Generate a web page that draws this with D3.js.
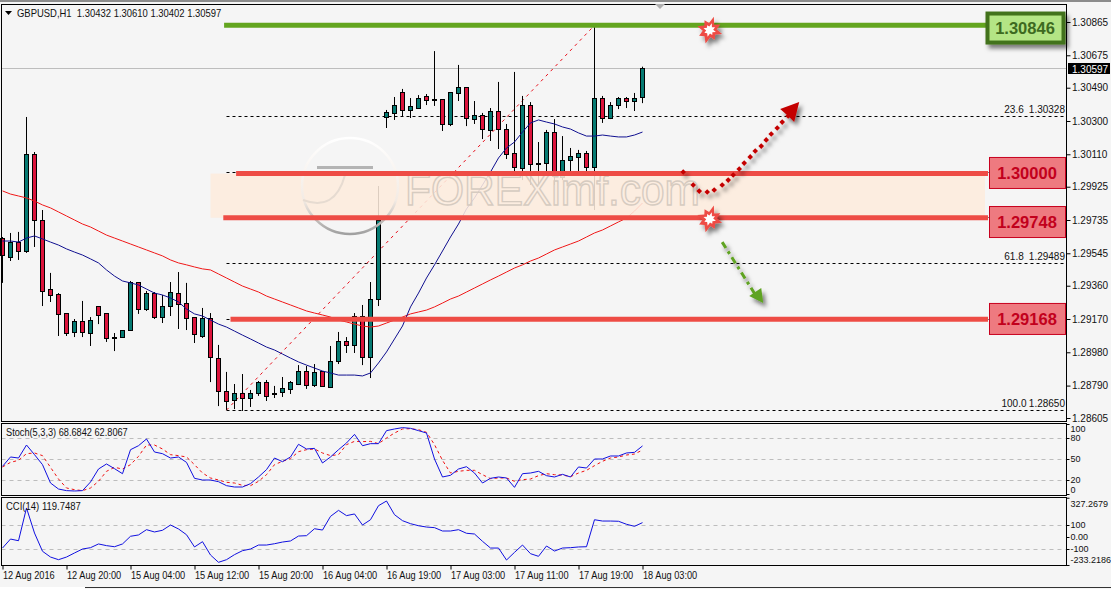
<!DOCTYPE html>
<html>
<head>
<meta charset="utf-8">
<script src="https://cdn.jsdelivr.net/npm/d3@7/dist/d3.min.js"></script>
<style>
  html, body { margin: 0; padding: 0; background: #f5f5f5; overflow: hidden; }
  svg { display: block; }
  text { font-family: "Liberation Sans", Arial, sans-serif; fill: #111; }
</style>
</head>
<body>
<svg id="chart" width="1111" height="589"></svg>
<script>
// GBPUSD H1 candles, 12 Aug 2016 to 18 Aug 2016
const opens = [1.29627,1.29524,1.29609,1.29552,1.30106,1.29735,1.29336,1.29307,1.29199,1.29090,1.29153,1.29090,1.29239,1.29199,1.29065,1.29067,1.29107,1.29381,1.29227,1.29318,1.29181,1.29244,1.29318,1.29261,1.29176,1.29067,1.29170,1.28942,1.28754,1.28702,1.28742,1.28713,1.28742,1.28805,1.28742,1.28748,1.28765,1.28799,1.28873,1.28788,1.28868,1.28782,1.28925,1.29039,1.29022,1.29187,1.28953,1.29284,1.30323,1.30346,1.30460,1.30357,1.30374,1.30437,1.30420,1.30420,1.30277,1.30460,1.30494,1.30311,1.30329,1.30249,1.30357,1.30254,1.30112,1.30032,1.30391,1.30055,1.30055,1.30232,1.29980,1.30072,1.30095,1.30112,1.30032,1.30426,1.30311,1.30386,1.30426,1.30414,1.30432];
const highs = [1.29638,1.29661,1.29667,1.30323,1.30123,1.29792,1.29433,1.29318,1.29204,1.29170,1.29273,1.29181,1.29239,1.29199,1.29090,1.29107,1.29387,1.29381,1.29330,1.29324,1.29307,1.29381,1.29438,1.29376,1.29176,1.29233,1.29204,1.29022,1.28868,1.28799,1.28856,1.28765,1.28816,1.28822,1.28788,1.28839,1.28816,1.28907,1.28902,1.28913,1.28868,1.29016,1.29096,1.29067,1.29204,1.29250,1.29381,1.29929,1.30363,1.30437,1.30483,1.30431,1.30448,1.30454,1.30699,1.30420,1.30460,1.30620,1.30494,1.30414,1.30346,1.30374,1.30523,1.30283,1.30580,1.30443,1.30408,1.30180,1.30249,1.30311,1.30214,1.30146,1.30135,1.30129,1.30848,1.30443,1.30408,1.30437,1.30437,1.30460,1.30610];
const lows = [1.29376,1.29501,1.29507,1.29547,1.29581,1.29244,1.29267,1.29073,1.29073,1.29067,1.29067,1.29016,1.29141,1.29039,1.28987,1.29062,1.29107,1.29199,1.29216,1.29170,1.29147,1.29187,1.29113,1.29107,1.29033,1.29062,1.28810,1.28673,1.28651,1.28656,1.28645,1.28668,1.28731,1.28702,1.28719,1.28725,1.28742,1.28793,1.28771,1.28782,1.28782,1.28776,1.28913,1.28976,1.28976,1.28907,1.28833,1.29244,1.30260,1.30306,1.30323,1.30317,1.30374,1.30391,1.30386,1.30243,1.30271,1.30414,1.30271,1.30283,1.30197,1.30186,1.30140,1.30083,1.29992,1.29963,1.29935,1.29935,1.30009,1.29935,1.29963,1.30009,1.30009,1.29998,1.29792,1.30289,1.30311,1.30368,1.30374,1.30357,1.30402];
const closes = [1.29530,1.29609,1.29558,1.30106,1.29729,1.29330,1.29301,1.29193,1.29084,1.29153,1.29090,1.29164,1.29187,1.29056,1.29060,1.29107,1.29381,1.29227,1.29318,1.29181,1.29244,1.29324,1.29256,1.29176,1.29078,1.29170,1.28947,1.28754,1.28696,1.28742,1.28713,1.28742,1.28805,1.28725,1.28735,1.28771,1.28805,1.28873,1.28793,1.28862,1.28782,1.28930,1.29039,1.29016,1.29187,1.28953,1.29284,1.29735,1.30351,1.30391,1.30357,1.30380,1.30431,1.30414,1.30415,1.30277,1.30460,1.30494,1.30317,1.30334,1.30249,1.30357,1.30254,1.30112,1.30032,1.30391,1.30055,1.30050,1.30232,1.29980,1.30077,1.30095,1.30117,1.30032,1.30426,1.30311,1.30386,1.30426,1.30408,1.30431,1.30597];

// Moving averages on the price panel
const maFast = [1.29615,1.29615,1.29609,1.29632,1.29644,1.29627,1.29609,1.29592,1.29570,1.29552,1.29535,1.29513,1.29490,1.29450,1.29415,1.29387,1.29376,1.29364,1.29341,1.29318,1.29307,1.29290,1.29267,1.29227,1.29199,1.29187,1.29164,1.29141,1.29124,1.29101,1.29078,1.29056,1.29033,1.29010,1.28993,1.28970,1.28947,1.28925,1.28907,1.28890,1.28873,1.28862,1.28850,1.28850,1.28850,1.28845,1.28862,1.28919,1.28982,1.29056,1.29130,1.29239,1.29318,1.29404,1.29479,1.29558,1.29638,1.29712,1.29798,1.29861,1.29935,1.30009,1.30089,1.30146,1.30180,1.30237,1.30289,1.30306,1.30294,1.30283,1.30266,1.30254,1.30232,1.30214,1.30214,1.30220,1.30214,1.30209,1.30209,1.30220,1.30237];
const maSlow = [1.29901,1.29883,1.29872,1.29861,1.29843,1.29821,1.29804,1.29781,1.29758,1.29735,1.29712,1.29695,1.29672,1.29649,1.29632,1.29615,1.29598,1.29581,1.29564,1.29547,1.29530,1.29507,1.29490,1.29479,1.29467,1.29456,1.29450,1.29427,1.29404,1.29381,1.29358,1.29341,1.29324,1.29301,1.29284,1.29267,1.29250,1.29233,1.29216,1.29204,1.29193,1.29181,1.29164,1.29153,1.29141,1.29130,1.29124,1.29130,1.29147,1.29164,1.29181,1.29199,1.29210,1.29221,1.29239,1.29261,1.29284,1.29301,1.29324,1.29347,1.29370,1.29393,1.29415,1.29438,1.29461,1.29479,1.29501,1.29518,1.29541,1.29564,1.29581,1.29598,1.29615,1.29638,1.29661,1.29678,1.29701,1.29724,1.29746,1.29786,1.29832];

// Stochastic oscillator, main and signal
const stochMain = [39.5,52.9,51.4,70,56.2,41.9,15.7,7.1,4.8,4.3,4.8,17.1,35.7,42.9,36.2,29,63.3,69,78.6,60,57.6,51.4,52.9,45.2,22.4,20,20,17.6,11.9,10,10,14.8,24.3,34.8,51.4,46.2,52.9,71,64.3,65.2,44.3,52.9,63.3,72.9,85.2,69,71.9,71.9,90.5,92.9,94.8,93.8,90.5,87.1,50,24.3,26.7,35.7,39,30,15.7,22.4,24.3,22.9,9.5,29,30,32.4,26.2,24.3,28.1,24.3,38.6,37.1,50,50,54.3,54.3,58.6,59.5,68.68];
const stochSignal = [38.6,45.2,48.1,57.6,58.6,54.8,38.1,21.4,8.6,6.2,4.8,8.6,18.1,32.4,38.1,35.7,41.9,53.8,70,70,64.3,56.2,54.8,52.9,41.9,30,22.9,20,16.7,15.7,12.4,11.9,18.1,27.6,41.9,46.7,50.5,60.5,63.3,64.3,58.6,54.8,56.2,70.5,75.2,74.8,75.2,71.9,80,87.1,92.9,93.3,91.9,88.1,70.5,48.1,30,32.4,33.8,33.8,27.6,21.9,22.9,22.9,18.1,20.5,21.4,26.2,29,27.6,27.1,24.8,30,33.8,40.5,46.7,51.4,52.9,55.7,57.1,62.81];

// Commodity channel index
const cci = [-92,-17,-31,242,33,-119,-167,-189,-167,-133,-100,-89,-58,-72,-81,-58,6,17,61,42,56,100,67,19,-83,-39,-150,-211,-189,-147,-114,-100,-67,-67,-56,-42,-33,8,11,69,58,172,222,178,192,100,144,261,300,186,136,111,94,83,78,50,50,61,31,25,-36,-92,-92,-192,-128,-67,-139,-161,-75,-117,-92,-89,-83,-81,144,133,133,131,106,89,119.75];

// Axis labels
const priceTicks = [1.30865,1.30675,1.30490,1.30300,1.30110,1.29925,1.29735,1.29545,1.29360,1.29170,1.28980,1.28790,1.28605];
const stochTicks = [100,80,50,20,0];
const cciTicks = [327.2679,100,0,-100,-233.2186];
const timeTickBars = [0,8,16,24,32,40,48,56,64,72,80];
const timeLabels = ["12 Aug 2016","12 Aug 20:00","15 Aug 04:00","15 Aug 12:00","15 Aug 20:00","16 Aug 04:00","16 Aug 19:00","17 Aug 03:00","17 Aug 11:00","17 Aug 19:00","18 Aug 03:00"];

// Support and resistance levels
const levelPrices = [1.30846,1.30000,1.29748,1.29168];
const levelStartBars = [27.7,29.2,27.6,28.5];
const levelKinds = ["up","down","down","down"];

// Fibonacci retracement between the swing low and swing high
const fibSwingLow = 1.28650;
const fibSwingHigh = 1.30846;
const fibLowBar = 28;
const fibHighBar = 74;
const fibPercents = ["23.6","61.8","100.0"];
const fibPrices = [1.30328,1.29489,1.28650];
const fibHiddenPrices = [1.30846,1.30007,1.29748,1.29168];

// Scenario paths, given as bar index and price
const upDotBars = [85.09,86.34,87.09,88.09,88.96,89.96,90.71,91.34,92.09,92.71,93.46,94.09,94.84,95.46,96.09,96.84,97.46,98.21];
const upDotPrices = [1.30009,1.29935,1.29900,1.29895,1.29906,1.29935,1.29963,1.29992,1.30026,1.30060,1.30095,1.30129,1.30157,1.30192,1.30226,1.30260,1.30294,1.30329];
const upHeadBars = [99.59,97.21,98.21,98.96];
const upHeadPrices = [1.30408,1.30368,1.30329,1.30294];
const downPathBars = [89.96,94.21];
const downPathPrices = [1.29609,1.29301];
const downHeadBars = [95.09,93.34,94.84];
const downHeadPrices = [1.29261,1.29301,1.29347];
const burstBars = [88.4,88.4];
const burstPrices = [1.30819,1.29741];

const lastPrice = closes[closes.length - 1];

const svg = d3.select("#chart");
const frameLeft = 1.5, frameRight = 1066.5;
const panels = {
  main: { top: 4.5, bottom: 421.5 },
  stoch: { top: 423.5, bottom: 495.5 },
  cci: { top: 497.5, bottom: 565.5 }
};

const x = d3.scaleLinear().domain([0, 1]).range([2.5, 10.5]);
const y = d3.scaleLinear().domain([1.30865, 1.28605]).range([22, 418]);
const yStoch = d3.scaleLinear().domain([0, 100]).range([494, 424]);
const yCci = d3.scaleLinear().domain([0, 100]).range([537, 525]);
const snap = v => Math.round(v - 0.5) + 0.5;

// The terminal font runs narrower than Liberation Sans, so squeeze text to its measured width
function squeeze(selection, ratio) {
  selection.each(function () {
    d3.select(this).attr("textLength", this.getComputedTextLength() * ratio)
      .attr("lengthAdjust", "spacingAndGlyphs");
  });
}

const defs = svg.append("defs");
const shadow = defs.append("filter").attr("id", "drop")
  .attr("x", "-30%").attr("y", "-30%").attr("width", "170%").attr("height", "170%");
shadow.append("feDropShadow").attr("dx", 3).attr("dy", 4).attr("stdDeviation", 2.2)
  .attr("flood-color", "#000").attr("flood-opacity", 0.5);
const ringFade = defs.append("linearGradient").attr("id", "ring")
  .attr("x1", 0).attr("x2", 0).attr("y1", 0).attr("y2", 1);
ringFade.append("stop").attr("offset", "0").attr("stop-color", "#ffffff");
ringFade.append("stop").attr("offset", "0.65").attr("stop-color", "#f3ebe4");
ringFade.append("stop").attr("offset", "1").attr("stop-color", "#a0a0a0");

// Window background and edges
svg.append("rect").attr("width", 1111).attr("height", 589).attr("fill", "#f5f5f5");
svg.append("rect").attr("width", 1111).attr("height", 2).attr("fill", "#8c8c8c");
svg.append("line").attr("x1", 85).attr("x2", 1111).attr("y1", 587.5).attr("y2", 587.5).attr("stroke", "#333");
svg.append("rect").attr("x", 0).attr("y", 587).attr("width", 85).attr("height", 2).attr("fill", "#fff");

// Dashed oscillator reference lines
[[yStoch, [80, 50, 20]], [yCci, [100, -100]]].forEach(([scale, levels]) => {
  svg.append("g").selectAll("line").data(levels).join("line")
    .attr("x1", frameLeft).attr("x2", frameRight)
    .attr("y1", d => snap(scale(d))).attr("y2", d => snap(scale(d)))
    .attr("stroke", "#bdbdbd").attr("stroke-dasharray", "4 4");
});

// Objects that sit behind the candles
const back = svg.append("g");
back.append("line").attr("x1", frameLeft).attr("x2", frameRight)
  .attr("y1", snap(y(lastPrice))).attr("y2", snap(y(lastPrice))).attr("stroke", "#bdbdbd");
back.selectAll(".fib").data(fibPrices.concat(fibHiddenPrices)).join("line").attr("class", "fib")
  .attr("x1", x(fibLowBar)).attr("x2", 1065)
  .attr("y1", d => snap(y(d))).attr("y2", d => snap(y(d)))
  .attr("stroke", "#000").attr("stroke-dasharray", "3 3");
back.append("line")
  .attr("x1", x(fibLowBar)).attr("y1", y(fibSwingLow))
  .attr("x2", x(fibHighBar)).attr("y2", y(fibSwingHigh))
  .attr("stroke", "#e8101c").attr("stroke-dasharray", "3 4");

// Candles
const bars = d3.range(opens.length);
const candles = svg.append("g").selectAll("g").data(bars).join("g");
candles.append("line")
  .attr("x1", i => x(i)).attr("x2", i => x(i))
  .attr("y1", i => y(highs[i])).attr("y2", i => y(lows[i]))
  .attr("stroke", "#000");
candles.append("rect")
  .attr("x", i => x(i) - 2).attr("width", 4)
  .attr("y", i => snap(y(Math.max(opens[i], closes[i]))))
  .attr("height", i => Math.max(1, Math.round(Math.abs(y(opens[i]) - y(closes[i])))))
  .attr("fill", i => closes[i] >= opens[i] ? "#067a72" : "#dc143c")
  .attr("stroke", "#000");

// Moving average lines
const priceLine = d3.line().x((d, i) => x(i)).y(d => y(d));
svg.append("path").attr("d", priceLine(maSlow)).attr("fill", "none").attr("stroke", "#f01818");
svg.append("path").attr("d", priceLine(maFast)).attr("fill", "none").attr("stroke", "#101090");

// Buy zone between the two lower levels
const boxLeft = 985;
svg.append("rect")
  .attr("x", x(26)).attr("width", boxLeft - x(26))
  .attr("y", y(levelPrices[1])).attr("height", y(levelPrices[2]) - y(levelPrices[1]))
  .attr("fill", "#fdebdd").attr("opacity", 0.87);

// Watermark
const mark = svg.append("g");
mark.append("circle").attr("cx", 350).attr("cy", 186).attr("r", 48)
  .attr("fill", "none").attr("stroke", "url(#ring)").attr("stroke-width", 2.5);
mark.append("rect").attr("x", 317).attr("y", 166).attr("width", 56).attr("height", 3).attr("fill", "#b4b4b4");
mark.append("path").attr("d", "M303 200 Q335 212 345 175").attr("fill", "none").attr("stroke", "#e6dbd1").attr("stroke-width", 2);
mark.append("text").attr("x", 405).attr("y", 205)
  .attr("textLength", 295).attr("lengthAdjust", "spacingAndGlyphs")
  .style("font-size", "44px").style("fill", "none")
  .style("stroke", "#d6cbc0").style("stroke-width", "1.4px")
  .text("FOREXimf.com");

// Level lines
svg.append("g").selectAll("line").data(levelPrices).join("line")
  .attr("x1", (d, i) => x(levelStartBars[i])).attr("x2", boxLeft + 3)
  .attr("y1", d => y(d)).attr("y2", d => y(d))
  .attr("stroke", (d, i) => levelKinds[i] === "up" ? "#63a51f" : "#ee4c45")
  .attr("stroke-width", 5);

// Level labels
const boxLift = [2.7, -0.6, 4.3, -0.4];
const boxes = svg.append("g").selectAll("g").data(levelPrices).join("g")
  .attr("transform", (d, i) => `translate(0,${y(d) + boxLift[i]})`);
boxes.append("rect")
  .attr("x", (d, i) => levelKinds[i] === "up" ? 987.5 : 989.5)
  .attr("width", 76)
  .attr("y", (d, i) => levelKinds[i] === "up" ? -14.5 : -15.5)
  .attr("height", (d, i) => levelKinds[i] === "up" ? 29 : 31)
  .attr("fill", (d, i) => levelKinds[i] === "up" ? "#b4e585" : "#ee7a80")
  .attr("stroke", (d, i) => levelKinds[i] === "up" ? "#43721b" : "#c8001e")
  .attr("stroke-width", (d, i) => levelKinds[i] === "up" ? 4 : 1)
  .attr("filter", (d, i) => levelKinds[i] === "up" ? "url(#drop)" : null);
boxes.append("text")
  .attr("x", (d, i) => levelKinds[i] === "up" ? 1025 : 1027).attr("y", 0).attr("dy", "0.36em")
  .attr("text-anchor", "middle")
  .style("font-size", "16.5px").style("font-weight", "bold")
  .style("fill", (d, i) => levelKinds[i] === "up" ? "#3d6a20" : "#c2001c")
  .text(d => d3.format(".5f")(d));

// Bursts marking where the levels were touched
const burstRadii = [14,7,12,7,13,7,11,7,14,8,12,7,13,7,11,7];
const burst = d3.lineRadial().curve(d3.curveLinearClosed)
  .angle((d, i) => i / burstRadii.length * 2 * Math.PI + 0.3).radius(d => d);
const bursts = svg.append("g").selectAll("g").data(burstPrices).join("g")
  .attr("transform", (d, i) => `translate(${x(burstBars[i])},${y(d)})`)
  .attr("filter", "url(#drop)");
bursts.append("path").attr("d", burst(burstRadii)).attr("fill", "#ee4c45");
bursts.append("path").attr("d", burst(burstRadii.map(r => r * 0.5))).attr("fill", "#fff");

// Bullish scenario: dotted curve and arrow head
const upPath = svg.append("g").attr("filter", "url(#drop)");
upPath.selectAll("rect").data(upDotBars).join("rect")
  .attr("x", -2).attr("y", -2).attr("width", 4).attr("height", 4)
  .attr("fill", "#c40000")
  .attr("transform", (d, i) => `translate(${x(d)},${y(upDotPrices[i])}) rotate(45)`);
upPath.append("path")
  .attr("d", d3.line().x(d => x(d)).y((d, i) => y(upHeadPrices[i])).curve(d3.curveLinearClosed)(upHeadBars))
  .attr("fill", "#c40000");

// Bearish scenario: dash-dot line and arrow head
const downPath = svg.append("g").attr("filter", "url(#drop)");
downPath.append("path")
  .attr("d", d3.line().x(d => x(d)).y((d, i) => y(downPathPrices[i]))(downPathBars))
  .attr("fill", "none").attr("stroke", "#5fa320").attr("stroke-width", 3).attr("stroke-dasharray", "7 4 3 4");
downPath.append("path")
  .attr("d", d3.line().x(d => x(d)).y((d, i) => y(downHeadPrices[i])).curve(d3.curveLinearClosed)(downHeadBars))
  .attr("fill", "#5fa320");

// Oscillators
const stochLine = d3.line().x((d, i) => x(i)).y(d => yStoch(d));
svg.append("path").attr("d", stochLine(stochSignal)).attr("fill", "none").attr("stroke", "#f01010").attr("stroke-dasharray", "3 3");
svg.append("path").attr("d", stochLine(stochMain)).attr("fill", "none").attr("stroke", "#1010e0");
const cciLine = d3.line().x((d, i) => x(i)).y(d => yCci(d));
svg.append("path").attr("d", cciLine(cci)).attr("fill", "none").attr("stroke", "#1010e0");

// Panel frames
svg.append("g").selectAll("rect").data(Object.values(panels)).join("rect")
  .attr("x", frameLeft).attr("width", frameRight - frameLeft)
  .attr("y", d => d.top).attr("height", d => d.bottom - d.top)
  .attr("fill", "none").attr("stroke", "#000");

// Axes
function styleAxis(g, size) {
  g.select(".domain").remove();
  g.selectAll("line").attr("stroke", "#000");
  g.selectAll("text").style("font-size", size + "px").style("font-family", '"Liberation Sans", Arial, sans-serif').attr("fill", "#111");
}
svg.append("g").attr("transform", `translate(${frameRight},0)`)
  .call(d3.axisRight(y).tickValues(priceTicks).tickFormat(d3.format(".5f")).tickSize(4).tickPadding(1.5))
  .call(styleAxis, 10);

const stochAxis = svg.append("g").attr("transform", `translate(${frameRight},0)`)
  .call(d3.axisRight(yStoch).tickValues(stochTicks).tickFormat(d3.format("d")).tickSize(3).tickPadding(1))
  .call(styleAxis, 9);
stochAxis.selectAll("text").attr("dy", d => d === 100 ? "0.8em" : d === 0 ? "-0.2em" : "0.32em");

const cciAxis = svg.append("g").attr("transform", `translate(${frameRight},0)`)
  .call(d3.axisRight(yCci).tickValues(cciTicks).tickFormat(d => d === 0 ? "0.00" : Number.isInteger(d) ? d3.format("d")(d).replace("−", "-") : String(d)).tickSize(3).tickPadding(1))
  .call(styleAxis, 9);
cciAxis.selectAll("text").attr("dy", d => d > 300 ? "1.0em" : d < -200 ? "-0.3em" : "0.32em");

const timeAxis = svg.append("g").attr("transform", `translate(0,${panels.cci.bottom})`)
  .call(d3.axisBottom(x).tickValues(timeTickBars).tickFormat((d, i) => timeLabels[i]).tickSize(4).tickPadding(2))
  .call(styleAxis, 10);
timeAxis.selectAll("text").attr("text-anchor", "start").attr("x", 0).call(squeeze, 0.92);

// Last price tag
svg.append("rect").attr("x", 1068).attr("y", snap(y(lastPrice)) - 5.5).attr("width", 42).attr("height", 11).attr("fill", "#000");
svg.append("text").attr("x", 1072).attr("y", y(lastPrice)).attr("dy", "0.36em")
  .style("font-size", "10px").style("fill", "#fff").text(d3.format(".5f")(lastPrice));

// Fibonacci level labels
const fibText = svg.append("g").selectAll("g").data(fibPrices).join("g")
  .attr("transform", d => `translate(0,${y(d) - 3})`);
fibText.append("text").attr("x", 1014).attr("text-anchor", "middle")
  .style("font-size", "10px").text((d, i) => fibPercents[i]);
fibText.append("text").attr("x", 1065).attr("text-anchor", "end")
  .style("font-size", "10px").text(d => d3.format(".5f")(d));

// Chart headings
svg.append("path").attr("d", d3.line()([[5, 11], [12, 11], [8.5, 15]])).attr("fill", "#000");
svg.append("text").attr("x", 17).attr("y", 17)
  .style("font-size", "10.5px").style("white-space", "pre")
  .text("GBPUSD,H1  1.30432 1.30610 1.30402 1.30597").call(squeeze, 0.9);
svg.append("text").attr("x", 6).attr("y", 436).style("font-size", "10px").text("Stoch(5,3,3) 68.6842 62.8067").call(squeeze, 0.92);
svg.append("text").attr("x", 6).attr("y", 510).style("font-size", "10px").text("CCI(14) 119.7487").call(squeeze, 0.95);

// Shift marker on the top edge
svg.append("path").attr("d", d3.line()([[655, 4], [665, 4], [660, 9]])).attr("fill", "#b0b0b0");
</script>
</body>
</html>
